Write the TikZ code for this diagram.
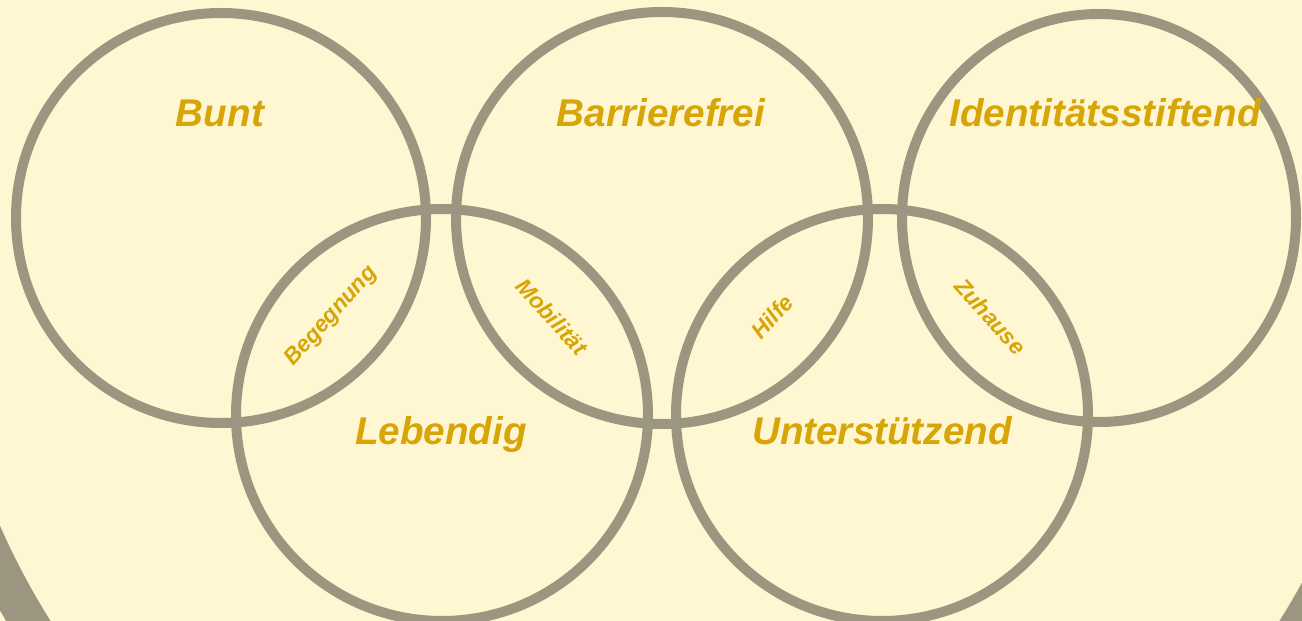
\documentclass[tikz,border=0pt]{standalone}
\usepackage{fontspec}
\setmainfont{Liberation Sans}
\usetikzlibrary{calc}
\definecolor{bg}{RGB}{255,247,209}
\definecolor{ringgray}{RGB}{156,150,128}
\definecolor{gold}{RGB}{216,165,8}
\tikzset{
    ring/.style={draw=ringgray, line width=0.2cm},
    bigword/.style={text=gold, anchor=base, font=\fontsize{22}{26}\selectfont\bfseries\itshape},
    lensword/.style={text=gold, font=\fontsize{13}{15}\selectfont\bfseries\itshape}
}
\begin{document}
\begin{tikzpicture}[x=0.02cm, y=-0.02cm]
        % 背景
        \fill[bg] (0, 0) rectangle (1302, 621);
        \useasboundingbox (0, 0) rectangle (1302, 621);
        \clip (0, 0) rectangle (1302, 621);

        % 大圆
        \coordinate (Z) at (665, 234);
        \draw[draw=ringgray, line width=0.76cm] (Z) circle (745);

        % 五个圆的圆心
        \coordinate (C_1) at (221, 218);
        \coordinate (C_2) at (662, 218);
        \coordinate (C_3) at (1099, 218);
        \coordinate (C_4) at (442, 415);
        \coordinate (C_5) at (882, 415);
        \draw[ring] (C_1) circle (205);
        \draw[ring] (C_2) circle (206);
        \draw[ring] (C_3) ellipse (197 and 204);
        \draw[ring] (C_4) circle (206);
        \draw[ring] (C_5) circle (206);

        % 标注圆
        \node[bigword] (bunt) at (220, 127) {Bunt};
        \node[bigword] (barriere) at (661, 127) {Barrierefrei};
        \node[bigword] (ident) at (1105, 127) {Identitätsstiftend};
        \node[bigword] (leben) at (441, 445) {Lebendig};
        \node[bigword] (unter) at (882, 445) {Unterstützend};

        % 标注交集
        \node[lensword, rotate=48] (begeg) at ($(C_1)!0.5!(C_4)$) {Begegnung};
        \node[lensword, rotate=-48] (mobil) at ($(C_2)!0.5!(C_4)$) {Mobilität};
        \node[lensword, rotate=48] (hilfe) at ($(C_2)!0.5!(C_5)$) {Hilfe};
        \node[lensword, rotate=-48] (zuhause) at ($(C_3)!0.5!(C_5)$) {Zuhause};
        \end{tikzpicture}
\end{document}
